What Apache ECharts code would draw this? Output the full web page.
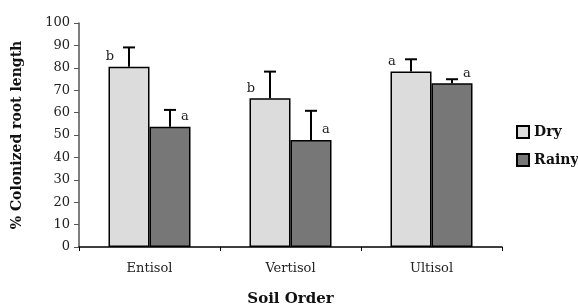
<!DOCTYPE html>
<html>
<head>
<meta charset="utf-8">
<script src="https://cdn.jsdelivr.net/npm/echarts@6/dist/echarts.min.js"></script>
<style>
  html, body { margin: 0; padding: 0; background: #fff; }
  #main { width: 578px; height: 307px; }
</style>
</head>
<body>
<div id="main"></div>
<script>
// data
var categories = ['Entisol', 'Vertisol', 'Ultisol'];
var dryMean = [80.5, 66.4, 78.3];
var dryErr = [8.6, 11.9, 5.5];
var dryLetters = ['b', 'b', 'a'];
var rainyMean = [53.7, 47.8, 73.1];
var rainyErr = [7.5, 13.0, 1.8];
var rainyLetters = ['a', 'a', 'a'];
var yTicks = { min: 0, max: 100, step: 10 };

var BAR_W = 41;
var serif = '"DejaVu Serif", "Liberation Serif", serif';

var myChart = echarts.init(document.getElementById('main'));

// error bar + letter, drawn through the axis coordinates
function errorRenderer(means, errs, letters, side) {
    return function (params, api) {
        var i = api.value(0);
        var top = api.coord([i, means[i]]);
        var hi = api.coord([i, means[i] + errs[i]]);
        var x = top[0] + side * BAR_W / 2;
        var style = { stroke: '#000', lineWidth: 2 };
        return {
            type: 'group',
            children: [
                { type: 'line', shape: { x1: x, y1: top[1], x2: x, y2: hi[1] }, style: style },
                { type: 'line', shape: { x1: x - 6, y1: hi[1], x2: x + 6, y2: hi[1] }, style: style },
                {
                    type: 'text',
                    style: {
                        text: letters[i],
                        x: x + (side < 0 ? -19 : 15),
                        y: top[1] - 10,
                        align: 'center',
                        verticalAlign: 'middle',
                        font: '13px ' + serif,
                        fill: '#222'
                    }
                }
            ]
        };
    };
}

var option = {
    animation: false,
    grid: { left: 79, right: 76, top: 23, bottom: 60, outerBoundsMode: 'none', containLabel: false },
    legend: {
        data: ['Dry', 'Rainy'],
        orient: 'vertical',
        left: 511,
        top: 120,
        itemWidth: 12,
        itemHeight: 12,
        itemGap: 14,
        icon: 'rect',
        textStyle: { fontFamily: serif, fontWeight: 'bold', fontSize: 14, color: '#111' }
    },
    xAxis: {
        type: 'category',
        data: categories,
        name: 'Soil Order',
        nameLocation: 'middle',
        nameGap: 45,
        nameTextStyle: { fontFamily: serif, fontWeight: 'bold', fontSize: 15, color: '#111' },
        axisLine: { lineStyle: { color: '#000', width: 1.5 } },
        axisTick: { show: true, length: 4, lineStyle: { color: '#000' } },
        axisLabel: { fontFamily: serif, fontSize: 13, color: '#222', margin: 15 }
    },
    yAxis: {
        type: 'value',
        min: yTicks.min,
        max: yTicks.max,
        interval: yTicks.step,
        name: '% Colonized root length',
        nameLocation: 'middle',
        nameGap: 55,
        nameTextStyle: { fontFamily: serif, fontWeight: 'bold', fontSize: 14, color: '#111' },
        axisLine: { show: true, lineStyle: { color: '#555', width: 1.5 } },
        axisTick: { show: true, length: 5, lineStyle: { color: '#555' } },
        splitLine: { show: false },
        axisLabel: { fontFamily: serif, fontSize: 13, color: '#222', margin: 9 }
    },
    series: [
        {
            name: 'Dry',
            type: 'bar',
            data: dryMean,
            barWidth: BAR_W,
            barGap: '0%',
            itemStyle: { color: '#dcdcdc', borderColor: '#000', borderWidth: 1.5 }
        },
        {
            name: 'Rainy',
            type: 'bar',
            data: rainyMean,
            barWidth: BAR_W,
            barGap: '0%',
            itemStyle: { color: '#777777', borderColor: '#000', borderWidth: 1.5 }
        },
        {
            type: 'custom',
            renderItem: errorRenderer(dryMean, dryErr, dryLetters, -1),
            data: categories.map(function (c, i) { return [i, dryMean[i] + dryErr[i]]; }),
            z: 10
        },
        {
            type: 'custom',
            renderItem: errorRenderer(rainyMean, rainyErr, rainyLetters, 1),
            data: categories.map(function (c, i) { return [i, rainyMean[i] + rainyErr[i]]; }),
            z: 10
        }
    ]
};

myChart.setOption(option);
</script>
</body>
</html>
